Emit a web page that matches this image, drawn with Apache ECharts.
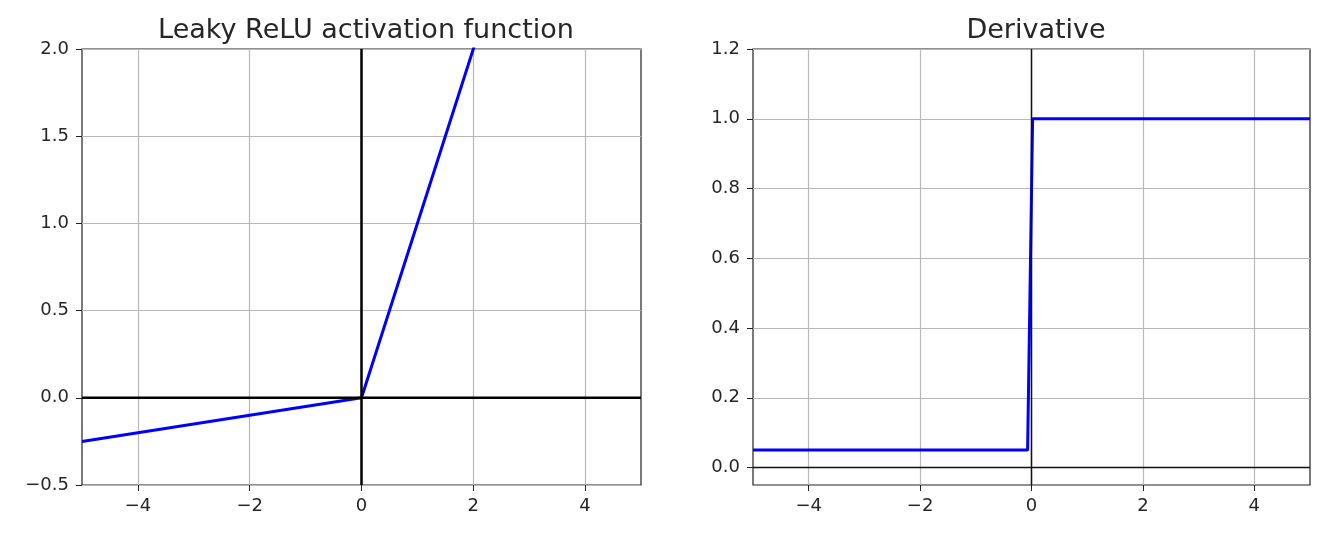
<!DOCTYPE html>
<html>
<head>
<meta charset="utf-8">
<script src="https://cdn.jsdelivr.net/npm/echarts@6/dist/echarts.min.js"></script>
<style>html,body{margin:0;padding:0;background:#fff}#c{width:1334px;height:534px}</style>
</head>
<body>
<div id="c"></div>
<script>
// ---- data ----
const titles = ['Leaky ReLU activation function', 'Derivative'];
const xTicks = [-4, -2, 0, 2, 4];
const leftYTicks = [-0.5, 0.0, 0.5, 1.0, 1.5, 2.0];
const rightYTicks = [0.0, 0.2, 0.4, 0.6, 0.8, 1.0, 1.2];
const leakyX = [-5, 0, 5];
const leakyY = [-0.25, 0, 5];
const derivX = [-5, -0.07, 0.02, 5];
const derivY = [0.05, 0.05, 1.0, 1.0];
const leftHAxisLine = [[-5, 0], [5, 0]];
const leftVAxisLine = [[0, -0.5], [0, 2]];
const rightHAxisLine = [[-5, 0], [5, 0]];
const rightVAxisLine = [[0, -0.05], [0, 1.2]];

const FONT = 'DejaVu Sans';
const TXT = '#262626';
const fmtNum = (d) => (v) => Number(v).toFixed(d).replace('-', '\u2212');
const zip = (xs, ys) => xs.map((x, i) => [x, ys[i]]);

function xAxis(gi) {
  return {
    type: 'value', gridIndex: gi, min: -5, max: 5,
    axisLine: { show: false, onZero: false },
    axisTick: { show: true, length: 6, lineStyle: { color: '#222', width: 1 }, customValues: xTicks },
    axisLabel: { customValues: xTicks, formatter: fmtNum(0), color: TXT, fontFamily: FONT, fontSize: 18, margin: 12 },
    splitLine: { show: true, lineStyle: { color: '#b8b8b8', width: 1.2 } }
  };
}
function yAxis(gi, min, max, ticks) {
  return {
    type: 'value', gridIndex: gi, min: min, max: max,
    axisLine: { show: false, onZero: false },
    axisTick: { show: true, length: 6, lineStyle: { color: '#222', width: 1 }, customValues: ticks },
    axisLabel: { customValues: ticks, formatter: fmtNum(1), color: TXT, fontFamily: FONT, fontSize: 18, margin: 13 },
    splitLine: { show: true, lineStyle: { color: '#b8b8b8', width: 1.2 } }
  };
}

const chart = echarts.init(document.getElementById('c'), null, { renderer: 'canvas' });
chart.setOption({
  animation: false,
  backgroundColor: '#fff',
  title: [
    { text: titles[0], left: 361, top: 12, textAlign: 'center', textStyle: { fontFamily: FONT, fontSize: 27, fontWeight: 'normal', color: TXT } },
    { text: titles[1], left: 1031, top: 12, textAlign: 'center', textStyle: { fontFamily: FONT, fontSize: 27, fontWeight: 'normal', color: TXT } }
  ],
  grid: [
    { left: 82, top: 49, width: 559, height: 436, show: true, borderColor: '#222', borderWidth: 1.2, backgroundColor: 'transparent' },
    { left: 753, top: 49, width: 557, height: 436, show: true, borderColor: '#222', borderWidth: 1.2, backgroundColor: 'transparent' }
  ],
  xAxis: [xAxis(0), xAxis(1)],
  yAxis: [yAxis(0, -0.5, 2, leftYTicks), yAxis(1, -0.05, 1.2, rightYTicks)],
  series: [
    { type: 'line', xAxisIndex: 0, yAxisIndex: 0, data: zip(leakyX, leakyY), showSymbol: false, clip: true,
      lineStyle: { color: '#0000ff', width: 3 }, z: 2 },
    { type: 'line', xAxisIndex: 0, yAxisIndex: 0, data: leftHAxisLine, showSymbol: false, clip: true,
      lineStyle: { color: '#000', width: 2.5 }, z: 3 },
    { type: 'line', xAxisIndex: 0, yAxisIndex: 0, data: leftVAxisLine, showSymbol: false, clip: true,
      lineStyle: { color: '#000', width: 2.5 }, z: 3 },
    { type: 'line', xAxisIndex: 1, yAxisIndex: 1, data: zip(derivX, derivY), showSymbol: false, clip: true,
      lineStyle: { color: '#0000ff', width: 3 }, z: 2 },
    { type: 'line', xAxisIndex: 1, yAxisIndex: 1, data: rightHAxisLine, showSymbol: false, clip: true,
      lineStyle: { color: '#111', width: 1.5 }, z: 3 },
    { type: 'line', xAxisIndex: 1, yAxisIndex: 1, data: rightVAxisLine, showSymbol: false, clip: true,
      lineStyle: { color: '#111', width: 1.5 }, z: 3 }
  ]
});
</script>
</body>
</html>
